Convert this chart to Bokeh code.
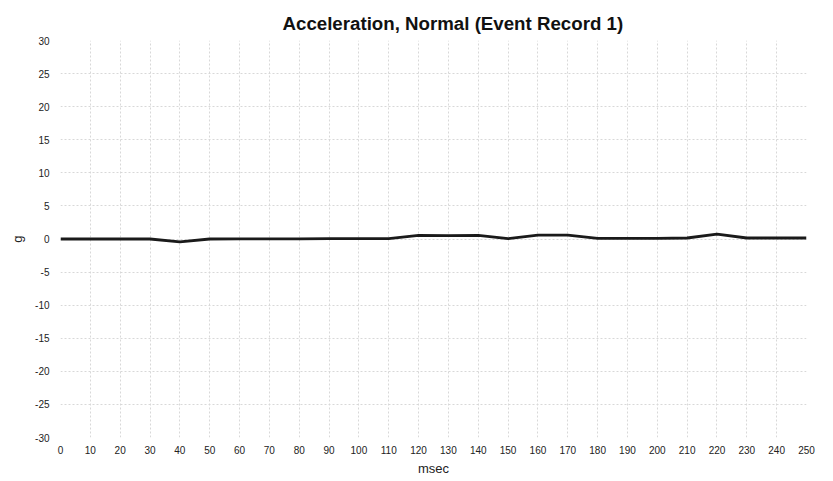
from bokeh.plotting import figure
from bokeh.models import FixedTicker, Range1d, PrintfTickFormatter
from bokeh.embed import file_html
from bokeh.resources import INLINE

time_ms = [0, 10, 20, 30, 40, 50, 60, 70, 80, 90, 100, 110, 120, 130, 140, 150,
           160, 170, 180, 190, 200, 210, 220, 230, 240, 250]
accel_g = [0.0, 0.0, 0.0, 0.0, -0.45, 0.0, 0.02, 0.03, 0.03, 0.05, 0.05, 0.05, 0.55, 0.5, 0.55, 0.05,
           0.6, 0.6, 0.1, 0.1, 0.1, 0.15, 0.75, 0.15, 0.15, 0.15]
x_ticks = list(range(0, 251, 10))
y_ticks = list(range(-30, 31, 5))

p = figure(width=817, height=478, output_backend="svg", toolbar_location=None,
           title="Acceleration, Normal (Event Record 1)",
           x_range=Range1d(0, 250), y_range=Range1d(-30, 30),
           min_border_left=60, min_border_right=11, min_border_top=40, min_border_bottom=41)

p.line(time_ms, accel_g, line_color="#1a1a1a", line_width=2.8)

p.title.text_font = "Liberation Sans"
p.title.text_font_size = "18.7px"
p.title.text_font_style = "bold"
p.title.align = "left"
p.title.offset = 222
p.title.standoff = 14
p.title.text_color = "#111111"

tick_font = "'Liberation Sans Narrow', 'Liberation Sans', sans-serif"
for ax in (p.xaxis[0], p.yaxis[0]):
    ax.axis_line_color = None
    ax.major_tick_line_color = None
    ax.minor_tick_line_color = None
    ax.major_label_text_font = tick_font
    ax.major_label_text_font_size = "10px"
    ax.major_label_text_color = "#222222"
    ax.axis_label_text_font = "Liberation Sans"
    ax.axis_label_text_font_style = "normal"
    ax.axis_label_text_color = "#222222"

p.xaxis.ticker = FixedTicker(ticks=x_ticks)
p.yaxis.ticker = FixedTicker(ticks=y_ticks)
p.yaxis.formatter = PrintfTickFormatter(format="%d")
p.xaxis.axis_label = "msec"
p.xaxis.axis_label_text_font_size = "13px"
p.xaxis.major_label_standoff = 2
p.xaxis.axis_label_standoff = 4
p.yaxis.axis_label = "g"
p.yaxis.axis_label_text_font_size = "13px"
p.yaxis.major_label_standoff = 5
p.yaxis.axis_label_standoff = 7

p.grid.grid_line_color = "#d8d8d8"
p.grid.grid_line_dash = "2 2"
p.grid.grid_line_width = 1
p.outline_line_color = None

open("out.html", "w").write(file_html(p, INLINE))
